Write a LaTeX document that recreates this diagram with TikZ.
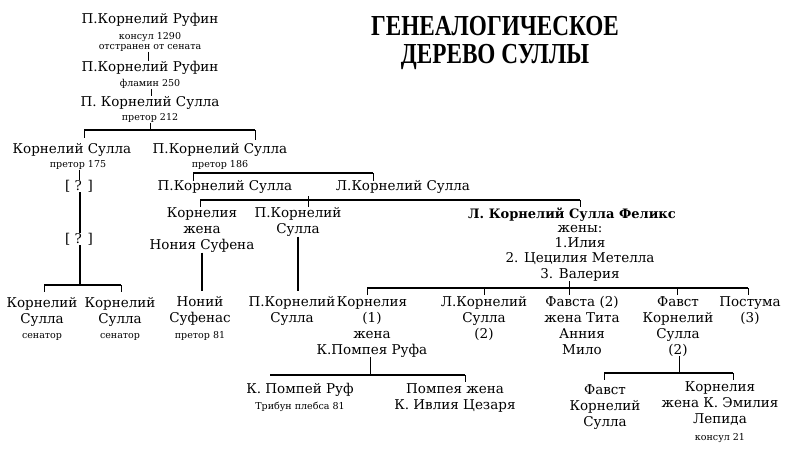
\documentclass[tikz,border=0pt]{standalone}
\usepackage{fontspec}
\setmainfont{DejaVu Serif}
\newfontfamily\titlefont{Liberation Serif}
\begin{document}
\begin{tikzpicture}[x=1pt,y=-1pt,
  nm/.style={inner sep=0pt,align=center,font=\fontsize{13.5}{16}\selectfont},
  sm/.style={inner sep=0pt,align=center,font=\fontsize{9.5}{11}\selectfont},
  ln/.style={line width=1.3pt},
  tk/.style={line width=1pt}]
\useasboundingbox (0,0) rectangle (800,452);
% title
\node[inner sep=0pt,font=\titlefont\bfseries\fontsize{29}{28}\selectfont,xscale=0.8,align=center] (title) at (495,43) {ГЕНЕАЛОГИЧЕСКОЕ\\ДЕРЕВО СУЛЛЫ};
% top line
\node[nm] (r1) at (150,20) {П.Корнелий Руфин};
\node[sm] (r1a) at (150,37) {консул 1290};
\node[sm] (r1b) at (150,48) {отстранен от сената};
\node[nm] (r2) at (150,68) {П.Корнелий Руфин};
\node[sm] (r2a) at (150,84) {фламин 250};
\node[nm] (r3) at (150,103) {П. Корнелий Сулла};
\node[sm] (r3a) at (150,118) {претор 212};
\draw[tk] (r1b.south -| 148,0) -- (r2.north -| 148,0);
\draw[tk] (r2a.south -| 151,0) -- (r3.north -| 151,0);
% gen 2
\coordinate (b1l) at (84,130); \coordinate (b1r) at (255,130);
\draw[ln] (b1l) -- (b1r);
\draw[tk] (r3a.south) -- (150,130);
\node[nm] (a1) at (72,150) {Корнелий Сулла};
\node[sm] (a1a) at (78,165) {претор 175};
\node[nm] (a2) at (220,150) {П.Корнелий Сулла};
\node[sm] (a2a) at (220,165) {претор 186};
\draw[tk] (b1l) -- (84,138); \draw[tk] (b1r) -- (255,140);
% left branch
\node[nm] (q1) at (79,186) {[ ? ]};
\node[nm] (q2) at (79,239) {[ ? ]};
\draw[tk] (a1a.south -| 79,0) -- (q1.north -| 79,0);
\draw[line width=1.6pt] (q1.south -| 80,0) -- (q2.north -| 80,0);
\draw[line width=1.6pt] (q2.south -| 80,0) -- (80,285);
\draw[ln] (44,285) -- (121,285);
\draw[tk] (44,285) -- (44,292); \draw[tk] (121,285) -- (121,292);
\node[nm] (s1) at (42,312) {Корнелий\\Сулла};
\node[sm] (s1a) at (42,337) {сенатор};
\node[nm] (s2) at (120,312) {Корнелий\\Сулла};
\node[sm] (s2a) at (120,337) {сенатор};
% gen 3
\draw[ln] (193,173) -- (373,173);
\draw[tk] (193,173) -- (193,181); \draw[tk] (373,173) -- (373,181);
\node[nm] (p1) at (225,187) {П.Корнелий Сулла};
\node[nm] (l1) at (403,187) {Л.Корнелий Сулла};
% gen 4
\draw[ln] (200,200) -- (580,200);
\draw[tk] (200,200) -- (200,207); \draw[tk] (308,196) -- (308,207); \draw[tk] (580,200) -- (580,207);
\node[nm] (k1) at (202,230) {Корнелия\\жена\\Нония Суфена};
\node[nm] (pk) at (298,222) {П.Корнелий\\Сулла};
\node[nm,font=\bfseries\fontsize{13}{16}\selectfont] (fx) at (572,215) {Л. Корнелий Сулла Феликс};
\node[nm,font=\fontsize{13.5}{15.3}\selectfont] (fxw) at (580,253) {жены:\\1.Илия\\2. Цецилия Метелла\\3. Валерия};
\draw[line width=1.6pt] (k1.south -| 202,0) -- (202,291);
\draw[line width=1.6pt] (pk.south -| 298,0) -- (298,291);
\node[nm] (ns) at (200,311) {Ноний\\Суфенас};
\node[sm] (nsa) at (200,336) {претор 81};
\node[nm] (pk2) at (292,311) {П.Корнелий\\Сулла};
% Felix children
\draw[ln] (367,288) -- (748,288);
\draw[tk] (fxw.south -| 569,0) -- (569,295);
\foreach \x in {367,484,677,748} \draw[tk] (\x,288) -- (\x,295);
\node[nm,anchor=north] (c1) at (372,296) {Корнелия\\(1)\\жена\\К.Помпея Руфа};
\node[nm,anchor=north] (c2) at (484,296) {Л.Корнелий\\Сулла\\(2)};
\node[nm,anchor=north] (c3) at (582,296) {Фавста (2)\\жена Тита\\Анния\\Мило};
\node[nm,anchor=north] (c4) at (678,296) {Фавст\\Корнелий\\Сулла\\(2)};
\node[nm,anchor=north] (c5) at (750,296) {Постума\\(3)};
% Pompeius children
\draw[tk] (c1.south -| 370,0) -- (370,375);
\draw[ln] (270,375) -- (465,375);
\draw[tk] (465,375) -- (465,382);
\node[nm] (g1) at (300,390) {К. Помпей Руф};
\node[sm] (g1a) at (300,407) {Трибун плебса 81};
\node[nm] (g2) at (455,398) {Помпея жена\\К. Ивлия Цезаря};
% Faustus children
\draw[tk] (c4.south -| 679,0) -- (679,373);
\draw[ln] (604,373) -- (733,373);
\draw[tk] (604,373) -- (604,380); \draw[tk] (733,373) -- (733,380);
\node[nm,anchor=north] (h1) at (605,384) {Фавст\\Корнелий\\Сулла};
\node[nm,anchor=north] (h2) at (720,381) {Корнелия\\жена К. Эмилия\\Лепида};
\node[sm] (h2a) at (720,438) {консул 21};
\end{tikzpicture}
\end{document}
